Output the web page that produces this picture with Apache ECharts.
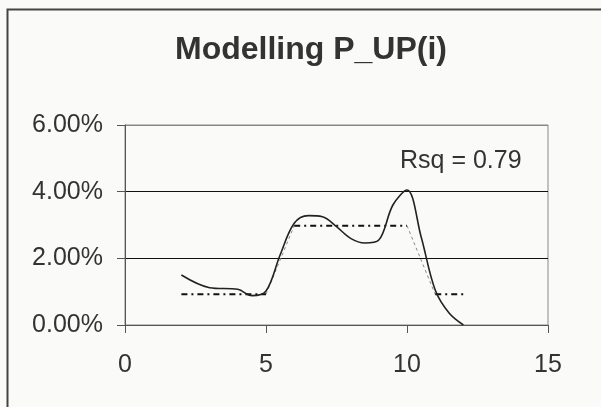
<!DOCTYPE html>
<html>
<head>
<meta charset="utf-8">
<script src="https://cdn.jsdelivr.net/npm/echarts@6/dist/echarts.min.js"></script>
<style>
  html, body { margin: 0; padding: 0; background: #fafaf9; }
  #chart { width: 601px; height: 407px; }
</style>
</head>
<body>
<div id="chart"></div>
<script>
// observed P_UP(i)
const obsX = [2, 3, 4, 4.5, 5, 5.5, 6, 6.5, 7, 7.5, 8, 8.5, 9, 9.5, 10, 10.5, 11, 11.5, 12];
const obsY = [0.0150, 0.0112, 0.0107, 0.0088, 0.0102, 0.0210, 0.0305, 0.0328, 0.0325, 0.0295,
              0.0260, 0.0246, 0.0255, 0.0360, 0.0405, 0.0265, 0.0105, 0.0035, 0.0000];
// fitted model (step)
const modelX = [2, 5, 6, 10, 11, 12];
const modelY = [0.0092, 0.0092, 0.0298, 0.0298, 0.0092, 0.0092];
const xTicks = [0, 5, 10, 15];
const yTicks = [0, 0.02, 0.04, 0.06];
const rsqText = "Rsq = 0.79";

const pairs = (xs, ys) => xs.map((x, i) => [x, ys[i]]);
const model = pairs(modelX, modelY);
// flat pieces drawn dark, slopes drawn thin grey
const flatData = [model[0], model[1], null, model[2], model[3], null, model[4], model[5]];
const slopeData = [model[1], model[2], null, model[3], model[4]];

const chart = echarts.init(document.getElementById("chart"));
chart.setOption({
  backgroundColor: "#fafaf9",
  animation: false,
  title: {
    text: "Modelling P_UP(i)",
    left: 306, textAlign: "center",
    top: 29,
    textStyle: { fontFamily: "Liberation Sans, Arial", fontSize: 32, fontWeight: "bold", color: "#333" }
  },
  graphic: [
    { type: "rect", shape: { x: 7.5, y: 9.5, width: 700, height: 500 },
      style: { fill: null, stroke: "#444", lineWidth: 2 } },
    { type: "text", left: 400, top: 149,
      style: { text: rsqText, font: "25px Liberation Sans, Arial", fill: "#333" } }
  ],
  grid: {
    left: 125, top: 125, width: 423, height: 200,
    show: true, borderColor: "#888", borderWidth: 1, backgroundColor: "transparent"
  },
  xAxis: {
    type: "value", min: xTicks[0], max: xTicks[xTicks.length - 1], interval: 5,
    axisLine: { lineStyle: { color: "#555", width: 1 } },
    axisTick: { show: true, length: 8, lineStyle: { color: "#555" } },
    axisLabel: { margin: 28, fontSize: 25, fontFamily: "Liberation Sans, Arial", color: "#333" },
    splitLine: { show: false }
  },
  yAxis: {
    type: "value", min: yTicks[0], max: yTicks[yTicks.length - 1], interval: 0.02,
    axisLine: { show: true, lineStyle: { color: "#555", width: 1 } },
    axisTick: { show: true, length: 8, lineStyle: { color: "#555" } },
    axisLabel: {
      margin: 22, fontSize: 25, fontFamily: "Liberation Sans, Arial", color: "#333",
      formatter: v => (v * 100).toFixed(2) + "%"
    },
    splitLine: { show: true, lineStyle: { color: ["#555", "#111", "#111", "#888"], width: 1 } }
  },
  series: [
    {
      name: "slope", type: "line", data: slopeData, symbol: "none",
      lineStyle: { color: "#888", width: 1, type: [3, 3] }, z: 2
    },
    {
      name: "model", type: "line", data: flatData, symbol: "none",
      lineStyle: { color: "#111", width: 2, type: [6, 4, 2, 4] }, z: 3
    },
    {
      name: "observed", type: "line", data: pairs(obsX, obsY), symbol: "none",
      smooth: 0.35,
      lineStyle: { color: "#222", width: 1.6 }, z: 4
    }
  ]
});
</script>
</body>
</html>
